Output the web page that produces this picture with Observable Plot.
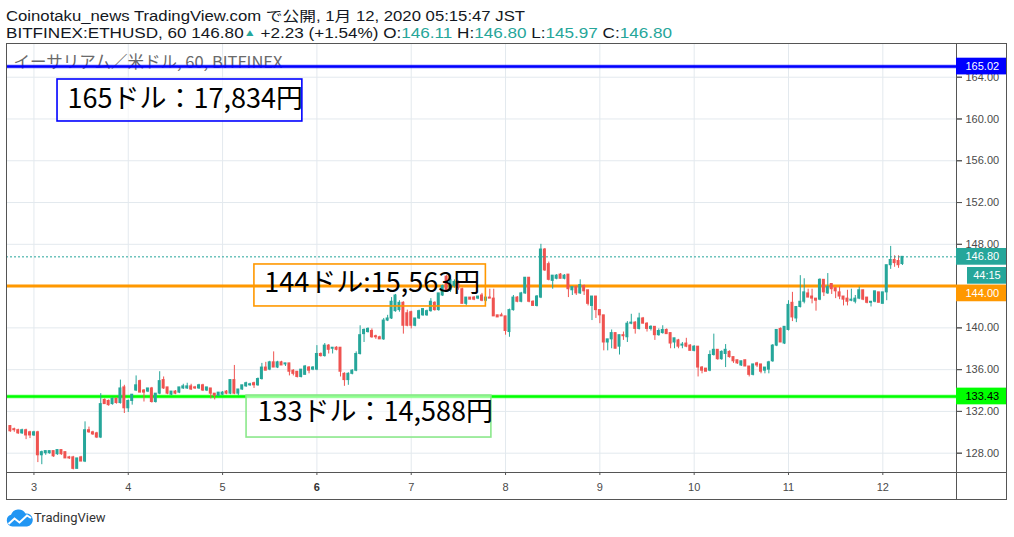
<!DOCTYPE html>
<html><head><meta charset="utf-8">
<script src="https://cdn.jsdelivr.net/npm/d3@7"></script>
<script src="https://cdn.jsdelivr.net/npm/@observablehq/plot@0.6"></script>
<style>
html,body{margin:0;padding:0;background:#fff;}
body{width:1014px;height:537px;position:relative;overflow:hidden;}
#chart{position:absolute;left:0;top:0;}
.hdr{position:absolute;left:6px;font-family:"Liberation Sans",Arial,"Noto Sans CJK JP",sans-serif;font-size:14px;line-height:16px;color:#131722;white-space:nowrap;transform-origin:0 50%;}
.g{color:#26a69a;}
.tri{font-size:10px;color:#26a69a;vertical-align:2px;line-height:10px;}
.ln{position:absolute;background:#555;}
#box{position:absolute;left:6px;top:43px;width:1001px;height:457px;border:1px solid #555;box-sizing:border-box;}
#logo{position:absolute;left:6px;top:508px;height:20px;font-family:Roboto,sans-serif;font-size:13px;color:#333;}
</style></head>
<body>
<div id="chart"></div>
<div class="hdr" id="l1" style="top:8px"></div>
<div class="hdr" id="l2" style="top:25px"></div>
<div id="box"></div>
<div class="ln" style="left:956px;top:472px;width:1px;height:28px"></div>
<div class="ln" style="left:956px;top:472px;width:51px;height:1px"></div>
<div id="logo"><svg width="27" height="18" viewBox="0 0 27 18" style="position:absolute;left:0;top:1px"><path d="M6.5 17.5 A6 6 0 0 1 5 5.8 A8 8 0 0 1 19.5 4.5 A6.5 6.5 0 0 1 21 17.5 Z" fill="#2196f3"/><path d="M2.5 15 L8.5 9.5 L13.5 13.5 L21 6.5 L25 9" fill="none" stroke="#fff" stroke-width="2"/></svg><span style="position:absolute;left:28px;top:2px">TradingView</span></div>
<script>
// ---- data ----
const title1 = "Coinotaku_news TradingView.com で公開, 1月 12, 2020 05:15:47 JST";
const symbol = "BITFINEX:ETHUSD, 60";
const change = "+2.23 (+1.54%)";
const paneTitle = "イーサリアム／米ドル, 60, BITFINEX";
const days = [3,4,5,6,7,8,9,10,11,12];
const priceTicks = [128,132,136,140,144,148,152,156,160,164];
const levels = [165.02, 144.00, 133.43];
const levelColors = ["#0000ff", "#ff9800", "#00ff00"];
const lastPrice = 146.80;
const countdown = "44:15";
const notes = ["165ドル：17,834円", "144ドル:15,563円", "133ドル：14,588円"];
// hourly candles [open, high, low, close], first candle Jan 2 18:00
const ohlc = [
[130.6,130.6,130.0,130.1],[130.3,130.4,130.0,130.2],[130.2,130.3,129.8,129.9],[129.9,130.3,129.8,130.2],
[130.2,130.3,129.3,129.7],[130.0,130.1,129.4,129.7],[129.7,130.1,129.6,130.0],[130.0,130.1,127.1,127.8],
[127.8,128.2,126.9,128.1],[128.0,128.2,127.8,128.2],[128.0,128.2,127.9,128.2],[128.2,128.2,127.6,127.7],
[127.9,128.3,127.8,128.3],[128.3,128.3,127.8,127.9],[128.1,128.1,127.5,127.5],[127.6,127.7,127.4,127.5],
[127.6,127.7,126.4,126.5],[126.5,127.5,126.5,127.5],[127.6,127.7,127.2,127.2],[127.2,131.0,127.1,130.2],
[130.2,130.5,129.9,130.0],[130.0,130.1,129.7,129.8],[129.9,130.0,129.4,129.5],[129.5,133.7,129.4,132.7],
[133.1,133.2,132.7,132.7],[133.0,133.1,132.5,132.6],[132.7,133.3,132.6,133.2],[133.2,133.3,132.7,132.8],
[132.8,135.0,132.7,134.2],[134.3,134.5,131.8,132.3],[132.3,133.1,131.9,133.0],[133.0,133.6,132.6,133.6],
[134.0,135.4,133.9,134.5],[134.9,135.0,133.8,133.8],[134.0,134.1,132.9,133.8],[133.9,134.2,133.8,134.2],
[134.2,134.3,132.8,132.9],[132.9,133.7,132.8,133.7],[133.7,135.8,133.6,134.9],[135.0,135.3,134.1,134.2],
[134.3,134.3,133.6,133.7],[133.6,133.9,133.5,133.9],[133.9,134.0,133.6,133.7],[133.8,134.3,133.7,134.3],
[134.2,134.6,134.1,134.4],[134.2,134.7,134.1,134.4],[134.4,134.6,134.0,134.1],[134.3,134.4,134.1,134.2],
[134.2,134.6,134.1,134.5],[134.5,134.6,133.9,134.0],[134.0,134.3,133.9,134.3],[134.2,134.2,133.2,133.7],
[133.7,133.7,133.1,133.5],[133.5,133.8,133.4,133.8],[133.6,133.9,133.5,133.8],[133.9,134.0,133.6,133.7],
[133.7,135.0,133.6,135.0],[135.0,136.4,133.6,133.7],[133.7,134.1,133.5,134.1],[134.1,134.5,134.0,134.5],
[134.4,134.8,134.3,134.7],[134.5,134.7,134.4,134.6],[134.7,134.8,134.2,134.5],[134.5,135.2,134.4,135.1],
[135.1,136.6,135.0,136.2],[136.2,136.7,135.9,135.9],[136.0,136.8,135.9,136.7],[136.7,137.7,136.2,136.2],
[136.2,136.8,136.1,136.7],[136.7,136.8,136.4,136.4],[136.5,136.6,136.3,136.6],[136.6,136.6,135.4,135.8],
[135.9,136.0,135.4,135.6],[135.8,135.8,135.2,135.3],[135.3,136.0,135.2,136.0],[135.5,136.4,135.5,136.3],
[136.2,136.3,135.6,135.9],[136.0,136.3,135.9,136.2],[136.0,138.3,135.9,137.5],[137.5,137.6,137.2,137.3],
[137.3,138.5,137.2,138.3],[138.3,138.4,137.5,137.9],[138.0,138.1,137.5,138.1],[138.1,138.2,137.8,137.9],
[138.1,138.1,135.3,135.8],[135.6,135.7,134.4,135.0],[135.0,135.7,134.5,135.6],[135.6,136.0,135.5,135.9],
[135.9,137.7,135.8,137.5],[137.5,140.2,137.4,139.3],[139.4,139.9,138.6,139.8],[139.6,140.0,139.5,139.9],
[139.7,139.9,139.0,139.1],[139.2,139.3,138.9,139.1],[139.1,139.2,138.9,138.9],[138.9,140.9,138.8,140.7],
[140.7,141.2,140.6,140.9],[140.9,142.9,140.8,142.5],[141.6,143.2,141.5,143.1],[141.7,142.6,141.5,142.4],
[142.4,142.5,139.4,140.2],[141.4,141.7,140.1,140.2],[141.5,141.6,139.9,140.2],[140.2,140.9,140.1,140.9],
[140.9,141.7,140.8,141.6],[141.2,141.8,141.1,141.8],[141.2,141.7,141.1,141.6],[141.6,142.8,141.5,142.5],
[142.4,142.5,141.6,141.7],[141.7,143.3,141.6,143.3],[143.1,144.1,143.0,144.0],[144.9,145.0,143.5,143.6],
[143.6,144.7,143.4,144.6],[144.0,144.6,143.8,144.4],[144.4,144.5,143.6,143.8],[143.7,143.8,142.3,142.3],
[142.3,142.9,142.1,142.9],[142.9,142.9,142.7,142.7],[142.9,143.0,142.6,142.7],[142.8,143.0,142.7,143.0],
[143.1,143.3,142.5,142.6],[142.6,142.9,142.5,142.9],[142.9,143.7,142.8,142.8],[142.8,143.7,141.1,141.1],
[141.2,141.2,141.0,141.0],[141.2,141.4,141.1,141.1],[141.1,141.1,139.3,139.7],[139.6,141.8,139.1,141.7],
[141.7,143.1,141.6,142.9],[142.9,143.0,142.4,142.5],[142.5,143.4,142.4,143.3],[143.3,144.8,143.2,144.8],
[144.8,144.8,142.4,142.5],[142.5,142.6,142.1,142.1],[142.1,143.1,142.0,143.0],[142.9,148.0,142.8,147.5],
[147.5,147.6,145.4,145.5],[146.1,146.3,144.5,144.6],[144.5,145.0,143.7,145.0],[144.7,145.1,144.6,145.0],
[145.1,145.2,144.7,144.7],[144.7,145.1,144.6,145.0],[145.1,145.1,142.9,143.7],[143.6,143.9,143.1,143.9],
[143.9,144.0,143.1,143.3],[143.3,144.6,143.2,144.1],[144.0,144.1,143.1,143.5],[143.6,143.6,142.1,142.3],
[142.1,143.0,140.7,143.0],[143.0,143.0,140.9,141.7],[141.7,141.7,140.4,141.2],[141.2,141.2,137.8,138.6],
[138.6,138.9,137.8,138.9],[138.9,139.8,138.0,139.5],[139.5,139.5,138.0,138.0],[138.2,139.3,137.4,139.3],
[139.3,139.6,138.8,139.2],[139.1,140.6,138.6,140.4],[140.4,141.3,140.3,140.5],[140.5,140.6,139.4,139.9],
[139.9,141.4,139.8,140.9],[140.9,141.0,140.4,140.4],[140.4,140.5,139.6,139.9],[139.9,140.2,139.7,140.1],
[140.1,140.1,138.8,139.3],[139.3,139.9,139.2,139.7],[139.5,140.2,139.4,139.8],[139.8,139.9,139.4,139.4],
[139.5,139.5,138.0,138.5],[138.6,139.0,138.0,139.0],[138.8,138.9,138.0,138.2],[138.3,138.6,138.0,138.4],
[138.5,139.0,138.1,138.2],[138.3,138.4,137.8,137.8],[137.8,138.3,137.7,138.2],[138.2,138.2,135.3,136.2],
[136.2,136.3,135.6,135.9],[136.1,136.1,135.8,135.8],[135.9,137.8,135.8,137.4],[137.4,139.4,137.3,137.9],
[137.9,137.9,136.9,137.0],[137.0,137.8,136.9,137.7],[137.5,138.4,136.2,137.9],[137.7,137.8,137.1,137.2],
[137.2,137.2,136.6,136.8],[136.9,136.9,136.5,136.6],[136.4,136.8,136.3,136.8],[136.9,136.9,136.3,136.3],
[136.3,136.3,135.3,135.5],[135.5,136.5,135.4,136.5],[136.6,136.7,136.2,136.4],[136.5,136.5,135.6,135.8],
[135.9,136.2,135.6,136.2],[136.0,136.8,135.6,136.7],[136.8,138.4,136.7,138.3],[138.3,139.8,138.2,139.8],
[139.9,140.0,138.6,138.6],[138.5,140.1,138.4,140.1],[139.8,142.6,139.7,142.2],[142.4,143.4,140.6,141.0],
[140.9,142.0,140.5,142.0],[142.0,145.0,141.9,142.5],[142.5,144.7,142.3,143.4],[143.3,143.7,142.9,142.9],
[143.0,143.7,142.3,142.8],[142.8,142.8,141.6,142.6],[142.7,144.7,142.6,144.6],[144.6,144.6,143.0,143.4],
[143.3,145.2,143.2,143.9],[144.2,144.2,143.2,143.7],[143.8,143.8,142.8,143.5],[143.4,143.9,142.7,143.0],
[143.0,143.0,142.1,142.7],[142.8,143.6,142.1,142.5],[142.6,143.7,142.5,142.7],[142.5,143.1,142.3,142.8],
[142.8,143.9,142.7,143.6],[143.6,143.6,142.6,142.7],[142.9,142.9,142.3,142.4],[142.4,142.5,142.0,142.5],
[142.5,143.5,142.4,143.5],[143.4,143.4,142.4,142.4],[142.3,143.4,142.3,143.4],[143.4,146.0,142.6,146.0],
[146.0,147.8,145.6,146.5],[146.5,146.9,145.8,146.2],[146.4,146.9,145.7,146.0],[146.11,146.80,145.97,146.80]
];

// ---- build ----
const UP = "#26a69a", DOWN = "#ef5350";
const HOUR = 3600e3;
const first = Date.UTC(2020, 0, 2, 18);
const table = ohlc.map(([o, h, l, c], i) => ({t: new Date(first + i * HOUR), o, h, l, c, up: c >= o}));
const shift = (t, hrs) => new Date(+t + hrs * HOUR);
const hx = hrs => new Date(Date.UTC(2020, 0, 3) + hrs * HOUR); // hours after Jan 3 00:00
const dayDate = d => new Date(Date.UTC(2020, 0, d));
const xDomain = [new Date(Date.UTC(2020, 0, 2, 17, 1)), new Date(Date.UTC(2020, 0, 12, 18, 45))];
const xEnd = xDomain[1];
const xOut = hx(247.5);

const last = ohlc[ohlc.length - 1];
const l1 = document.getElementById("l1"), l2 = document.getElementById("l2");
l1.textContent = title1;
l2.innerHTML =
  `${symbol} ${last[3].toFixed(2)}<span class="tri">▲</span> ${change} O:<span class="g">${last[0].toFixed(2)}</span> H:<span class="g">${last[1].toFixed(2)}</span> L:<span class="g">${last[2].toFixed(2)}</span> C:<span class="g">${last[3].toFixed(2)}</span>`;
// stretch header lines to the widths seen in the reference
[[l1, 519], [l2, 666]].forEach(([el, w]) => {
  const cur = el.getBoundingClientRect().width;
  if (cur > 0) el.style.transform = `scaleX(${w / cur})`;
});

const noteBoxes = [
  {x1: hx(6.0), x2: hx(68.3), y1: 159.76, y2: 163.78, stroke: levelColors[0], fill: "#ffffff", fo: 0.6, tx: hx(8.55), ty: 161.85},
  {x1: hx(56.1), x2: hx(115.0), y1: 142.05, y2: 146.07, stroke: levelColors[1], fill: "none", fo: 0, tx: hx(58.6), ty: 144.3},
  {x1: hx(54.1), x2: hx(116.4), y1: 129.5, y2: 133.52, stroke: "#8be88b", fill: "#ffffff", fo: 0.55, tx: hx(56.9), ty: 131.9}
];
const priceLabels = [
  {v: levels[0], at: levels[0], fill: levelColors[0], color: "#fff"},
  {v: lastPrice, at: lastPrice, fill: UP, color: "#fff"},
  {v: levels[1], at: levels[1] - 0.7, fill: levelColors[1], color: "#fff"},
  {v: levels[2], at: levels[2], fill: levelColors[2], color: "#000"}
];
const lblH = 0.8;
// the 144.00 tick label is hidden under the orange price tag in the reference
const axisLabelTicks = priceTicks.filter(v => v !== levels[1]);

const marks = [
  Plot.ruleY(priceTicks, {stroke: "#e3e9ee"}),
  Plot.ruleX(days, {x: dayDate, stroke: "#e3e9ee"}),
  Plot.text([paneTitle], {frameAnchor: "top-left", dx: 7, dy: 19, lineAnchor: "middle", fill: "#6a6a6a", fontSize: 16.5, fontFamily: "Noto Sans CJK JP, sans-serif"}),
  ...levels.map((v, i) => Plot.ruleY([v], {stroke: levelColors[i], strokeWidth: 4, strokeOpacity: 0.35})),
  ...levels.map((v, i) => Plot.ruleY([v], {stroke: levelColors[i], strokeWidth: 2.5})),
  Plot.ruleX(table, {x: "t", y1: "l", y2: "h", stroke: d => d.up ? UP : DOWN, strokeWidth: 1}),
  Plot.rect(table, {x1: d => shift(d.t, -0.38), x2: d => shift(d.t, 0.38), y1: "o", y2: "c", fill: d => d.up ? UP : DOWN, insetTop: -0.5, insetBottom: -0.5}),
  Plot.ruleY([lastPrice], {stroke: UP, strokeDasharray: "2,2"}),
  Plot.rect(noteBoxes, {x1: "x1", x2: "x2", y1: "y1", y2: "y2", stroke: d => d.stroke, fill: d => d.fill, fillOpacity: d => d.fo, strokeWidth: 1.6}),
  Plot.text(noteBoxes, {x: "tx", y: "ty", text: (d, i) => notes[i], textAnchor: "start", lineAnchor: "middle", fill: "#000", fontSize: 27, fontFamily: "Noto Sans CJK JP, sans-serif"}),
  Plot.frame({stroke: "#555"}),
  Plot.axisY(priceTicks, {anchor: "right", tickSize: 5, tickFormat: () => "", stroke: "#555"}),
  Plot.axisY(axisLabelTicks, {anchor: "right", tickSize: 5, tickPadding: 4, tickFormat: d => d.toFixed(2), stroke: "#555", fill: "#4a4a4a", fontSize: 11}),
  Plot.axisX(days.map(dayDate), {anchor: "bottom", tickSize: 3, tickFormat: () => "", stroke: "#555"}),
  Plot.text(days.filter(d => d !== 6), {x: dayDate, text: d => String(d), frameAnchor: "bottom", dy: 15, lineAnchor: "middle", fill: "#4a4a4a", fontSize: 11}),
  Plot.text(days.filter(d => d === 6), {x: dayDate, text: d => String(d), frameAnchor: "bottom", dy: 15, lineAnchor: "middle", fill: "#333", fontSize: 11, fontWeight: "bold"}),
  Plot.rect(priceLabels, {x1: xEnd, x2: xOut, y1: d => d.at - lblH, y2: d => d.at + lblH, fill: d => d.fill}),
  Plot.rect([countdown], {x1: hx(237.55), x2: xOut, y1: lastPrice - 1.82 - lblH, y2: lastPrice - 1.82 + lblH, fill: UP}),
  Plot.text(priceLabels, {x: xEnd, y: "at", dx: 9, text: d => d.v.toFixed(2), textAnchor: "start", lineAnchor: "middle", fill: d => d.color, fontSize: 11}),
  Plot.text([countdown], {x: hx(242.5), y: lastPrice - 1.82, text: d => d, textAnchor: "middle", lineAnchor: "middle", fill: "#fff", fontSize: 11})
];

const chart = Plot.plot({
  width: 1014, height: 537,
  marginTop: 43, marginLeft: 6, marginRight: 58, marginBottom: 65,
  x: {type: "utc", domain: xDomain, axis: null},
  y: {domain: [126.152, 167.227], axis: null},
  style: {fontFamily: "Liberation Sans, Arial, sans-serif", fontSize: "11px", color: "#4a4a4a", background: "transparent", overflow: "visible"},
  marks
});
document.getElementById("chart").appendChild(chart);
</script>
</body></html>
